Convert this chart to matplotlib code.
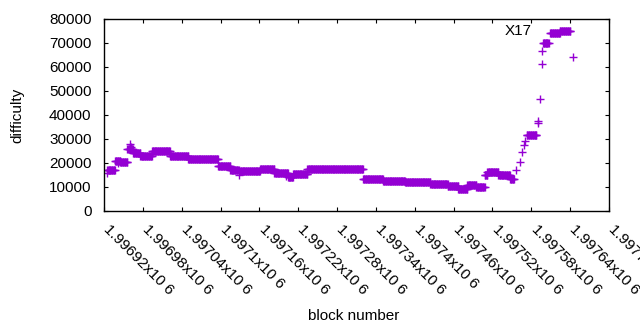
import matplotlib
matplotlib.use("Agg")
import matplotlib.pyplot as plt
import matplotlib.transforms as mtransforms
import numpy as np

plt.rcParams["font.family"] = ["Liberation Sans", "DejaVu Sans"]

# runs of (nearly) constant difficulty: first block, last block, difficulty
seg_start = [1996925, 1996937, 1996945, 1996956, 1996965, 1996976, 1996994,
             1997022, 1997050, 1997096, 1997115, 1997130, 1997161, 1997183,
             1997204, 1997212, 1997234, 1997320, 1997351, 1997385, 1997424,
             1997451, 1997467, 1997481, 1997495, 1997508, 1997512, 1997529,
             1997547, 1997573, 1997598, 1997609, 1997624]
seg_end = [1996937, 1996945, 1996956, 1996965, 1996976, 1996994, 1997022,
           1997050, 1997096, 1997115, 1997128, 1997161, 1997183, 1997204,
           1997212, 1997234, 1997320, 1997351, 1997385, 1997424, 1997451,
           1997467, 1997481, 1997495, 1997508, 1997512, 1997529, 1997547,
           1997553, 1997588, 1997607, 1997624, 1997640]
seg_diff = [17000, 21000, 20500, 26000, 24200, 22800, 25000,
            23000, 21600, 18600, 17100, 16600, 17400, 15700,
            14300, 15300, 17400, 13200, 12700, 12000, 11200,
            10300, 9300, 10700, 9900, 15200, 16300, 15000,
            13300, 31600, 69900, 74000, 74900]

# isolated blocks (transitions and outliers)
pt_block = [1996924, 1996941, 1996960, 1996961, 1997129, 1997201,
            1997557, 1997562, 1997566, 1997569, 1997571, 1997590, 1997591,
            1997594, 1997596, 1997596, 1997644]
pt_diff = [16000, 20100, 27800, 26500, 15000, 14700,
           17100, 20500, 24700, 27500, 29000, 37500, 36500,
           46500, 61100, 66700, 64000]

blocks = np.concatenate([np.arange(s, e + 1) for s, e in zip(seg_start, seg_end)] + [pt_block])
diffs = np.concatenate([np.full(e - s + 1, d) for s, e, d in zip(seg_start, seg_end, seg_diff)] + [pt_diff])

xticks = np.arange(1996920, 1997701, 60)
xlabels = [f"{v / 1e6:.5f}".rstrip("0") + "x10 6" for v in xticks]

fig = plt.figure(figsize=(6.4, 3.3), dpi=100)
ax = fig.add_axes([104 / 640, 119 / 330, 505 / 640, 192 / 330])
ax.plot(blocks, diffs, linestyle="none", marker="+", markersize=6,
        markeredgewidth=1, color="#9400D3")

ax.set_xlim(1996920, 1997700)
ax.set_ylim(0, 80000)
ax.set_yticks(np.arange(0, 80001, 10000))
ax.set_xticks(xticks)
ax.set_xticklabels(xlabels, rotation=-45, ha="left", va="top", rotation_mode="anchor")
ax.tick_params(direction="in", top=True, right=True, length=3, labelsize=11)
ax.tick_params(axis="y", pad=9)
ax.tick_params(axis="x", pad=8)
shift = mtransforms.ScaledTranslation(7 / 100, 0, fig.dpi_scale_trans)
for lab in ax.get_xticklabels():
    lab.set_transform(lab.get_transform() + shift)
for s in ax.spines.values():
    s.set_linewidth(1)

ax.text(1997539, 75000, "X17", fontsize=11, ha="left", va="center")
fig.text(354 / 640, 1 - 316 / 330, "block number", fontsize=11, ha="center", va="center")
fig.text(17 / 640, 1 - 115 / 330, "difficulty", fontsize=11, ha="center", va="center",
         rotation=90)

fig.savefig("out.png")
